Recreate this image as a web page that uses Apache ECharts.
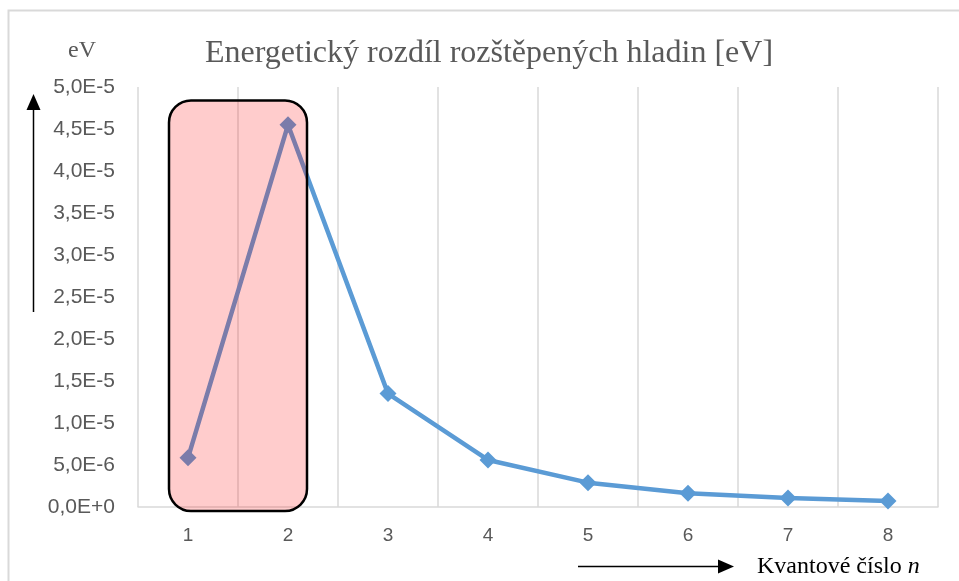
<!DOCTYPE html>
<html>
<head>
<meta charset="utf-8">
<script src="https://cdn.jsdelivr.net/npm/echarts@6/dist/echarts.min.js"></script>
<style>
  html, body { margin: 0; padding: 0; background: #fff; }
  #chart { width: 959px; height: 581px; }
</style>
</head>
<body>
<div id="chart"></div>
<script>
// kvantové číslo n
const categories = ["1", "2", "3", "4", "5", "6", "7", "8"];
// energetický rozdíl [eV]
const energy = [5.85e-6, 4.55e-5, 1.35e-5, 5.6e-6, 2.9e-6, 1.65e-6, 1.07e-6, 0.72e-6];
// zvýrazněné body (rámeček)
const highlighted = ["1", "2"];

const gray = "#595959";
const chart = echarts.init(document.getElementById("chart"));

const option = {
  animation: false,
  title: {
    text: "Energetický rozdíl rozštěpených hladin [eV]",
    left: 200,
    top: 33,
    textStyle: {
      fontFamily: "Liberation Serif",
      fontSize: 32,
      fontWeight: "normal",
      color: gray
    }
  },
  grid: { left: 138, right: 21, top: 87, bottom: 74 },
  xAxis: {
    type: "category",
    data: categories,
    boundaryGap: true,
    axisLine: { lineStyle: { color: "#d9d9d9", width: 1.5 } },
    axisTick: { show: false },
    axisLabel: { color: gray, fontSize: 19, fontFamily: "Liberation Sans", margin: 19 },
    splitLine: { show: true, lineStyle: { color: "#d9d9d9", width: 1.5 } }
  },
  yAxis: {
    type: "value",
    min: 0,
    max: 5e-5,
    interval: 5e-6,
    axisLine: { show: false },
    axisTick: { show: false },
    splitLine: { show: false },
    axisLabel: {
      color: gray,
      fontSize: 21,
      fontFamily: "Liberation Sans",
      margin: 23,
      formatter: function (v) {
        return v.toExponential(1).replace(".", ",").toUpperCase();
      }
    }
  },
  series: [{
    type: "line",
    data: energy,
    symbol: "diamond",
    symbolSize: 17,
    lineStyle: { color: "#5b9bd5", width: 4.5 },
    itemStyle: { color: "#5b9bd5" }
  }]
};
chart.setOption(option);

// rámeček kolem prvních dvou bodů + šipky a popisky os
const x1 = chart.convertToPixel({ xAxisIndex: 0 }, highlighted[0]);
const x2 = chart.convertToPixel({ xAxisIndex: 0 }, highlighted[1]);
const yTop = chart.convertToPixel({ yAxisIndex: 0 }, 4.84e-5);
const yBot = chart.convertToPixel({ yAxisIndex: 0 }, 0) + 4;

chart.setOption({
  graphic: [
    {
      type: "rect",
      shape: { x: 8.5, y: 10.5, width: 1200, height: 1000 },
      style: { fill: "none", stroke: "#d9d9d9", lineWidth: 2 },
      silent: true, z: 0
    },
    {
      type: "rect",
      shape: { x: x1 - 19, y: yTop, width: x2 - x1 + 38, height: yBot - yTop, r: 22 },
      style: { fill: "rgba(255,0,0,0.2)", stroke: "#000", lineWidth: 2.5 },
      silent: true, z: 100
    },
    {
      type: "text",
      x: 82, y: 51,
      style: {
        text: "eV", fontFamily: "Liberation Serif", fontSize: 24,
        fill: gray, align: "center", verticalAlign: "middle"
      }
    },
    {
      type: "line",
      shape: { x1: 33.5, y1: 312, x2: 33.5, y2: 106 },
      style: { stroke: "#000", lineWidth: 1.5 }
    },
    {
      type: "polygon",
      shape: { points: [[33.5, 94], [26.5, 110], [40.5, 110]] },
      style: { fill: "#000" }
    },
    {
      type: "line",
      shape: { x1: 578, y1: 566.5, x2: 722, y2: 566.5 },
      style: { stroke: "#000", lineWidth: 1.5 }
    },
    {
      type: "polygon",
      shape: { points: [[734, 566.5], [718, 559.5], [718, 573.5]] },
      style: { fill: "#000" }
    },
    {
      type: "text",
      x: 757, y: 567,
      style: {
        text: "{a|Kvantové číslo }{b|n}",
        verticalAlign: "middle",
        rich: {
          a: { fontFamily: "Liberation Serif", fontSize: 24, color: gray },
          b: { fontFamily: "Liberation Serif", fontSize: 24, fontStyle: "italic", color: gray }
        }
      }
    }
  ]
});
</script>
</body>
</html>
